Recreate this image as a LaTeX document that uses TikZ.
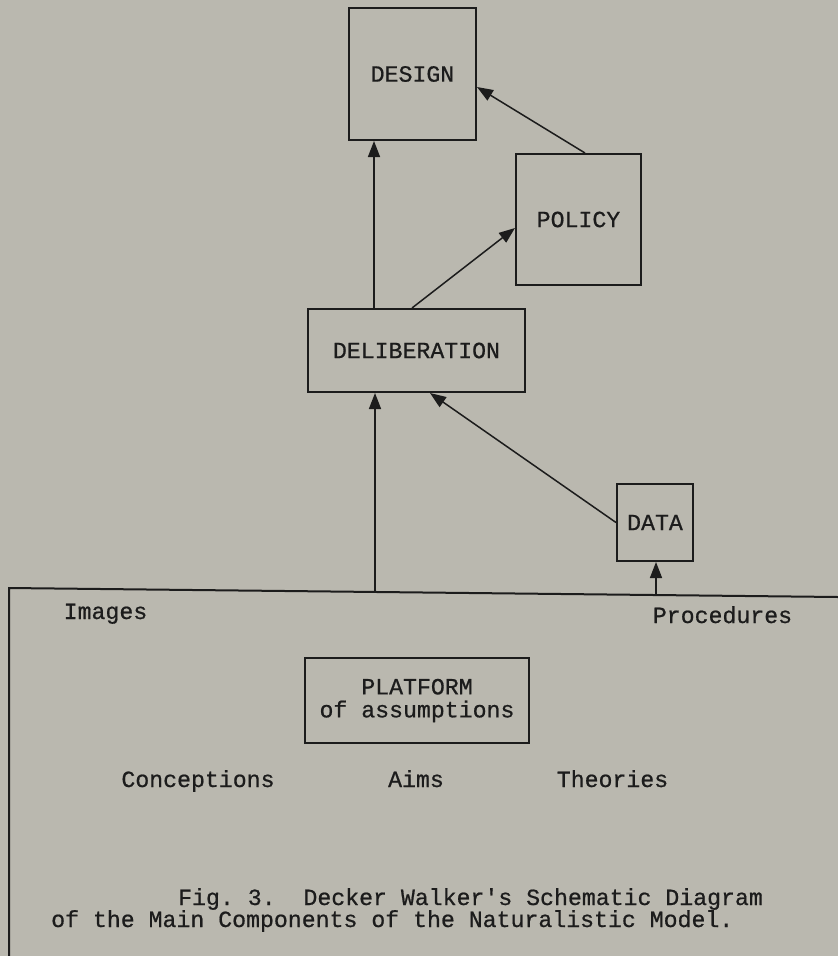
\documentclass[tikz,border=0pt]{standalone}
\usepackage{fontspec}
\setmonofont{Liberation Mono}[FakeBold=0.7]
\usetikzlibrary{arrows.meta}
\definecolor{paper}{RGB}{186,184,175}
\definecolor{ink}{RGB}{28,28,28}
\frenchspacing
\begin{document}
\begin{tikzpicture}[x=1pt,y=-1pt,
  font=\ttfamily\fontsize{23.2}{23}\selectfont, text=ink,
  box/.style={draw=ink,line width=2pt,inner sep=0pt,align=center},
  conn/.style={draw=ink,line width=1.5pt,-{Triangle[length=16pt,width=12pt]}},
  lbl/.style={inner sep=0pt,anchor=base}]
\fill[paper] (0,0) rectangle (838,956);
\useasboundingbox (0,0) rectangle (838,956);
% boxes
\node[box,minimum width=127pt,minimum height=132pt] (design) at (412.5,74) {DESIGN};
\node[box,minimum width=125pt,minimum height=131pt] (policy) at (578.5,219.5) {POLICY};
\node[box,minimum width=217pt,minimum height=83pt] (delib) at (416.5,350.5) {DELIBERATION};
\node[box,minimum width=76pt,minimum height=77pt] (data) at (655,522.5) {DATA};
\node[box,minimum width=224pt,minimum height=85pt] (platform) at (417,700.5) {PLATFORM\\of assumptions};
% frame of the platform
\coordinate (ftl) at (9,588);
\coordinate (ftr) at (838,597);
\coordinate (fbl) at (9,956);
\draw[ink,line width=2pt] (ftr) -- (ftl) -- (fbl);
% connector anchors
\coordinate (c1) at (374,0);
\coordinate (fa) at (375,592);
\coordinate (fb) at (656,594.5);
% connectors
\draw[conn] (delib.north -| c1) -- (design.south -| c1);
\draw[conn] ([xshift=-4.5pt]delib.north) -- ([yshift=-8.5pt]policy.west);
\draw[conn] ([xshift=6.5pt]policy.north) -- ([yshift=-13pt]design.east);
\draw[conn] (data.west) -- ([xshift=13.5pt]delib.south);
\draw[conn] (fa) -- (fa |- delib.south);
\draw[conn] (fb) -- (fb |- data.south);
% labels
\node[lbl] (images) at (105.5,619) {Images};
\node[lbl] (procedures) at (722.5,623) {Procedures};
\node[lbl] (conceptions) at (198,787) {Conceptions};
\node[lbl] (aims) at (416,787) {Aims};
\node[lbl] (theories) at (612.5,787) {Theories};
\node[lbl,anchor=base west] (cap1) at (178,905) {Fig. 3.~~Decker Walker's Schematic Diagram};
\node[lbl,anchor=base west] (cap2) at (51,927) {of the Main Components of the Naturalistic Model.};
\end{tikzpicture}
\end{document}
